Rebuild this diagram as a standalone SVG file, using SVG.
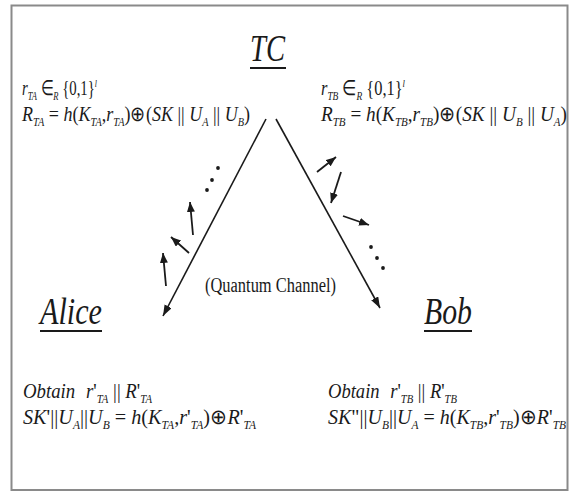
<svg xmlns="http://www.w3.org/2000/svg" width="569" height="492" viewBox="0 0 569 492">
<style>
.m{font-family:"Liberation Serif","Times New Roman",serif;font-size:21px;fill:#1a1a1a}
.q{font-family:"Liberation Serif","Times New Roman",serif;font-size:20px;fill:#1a1a1a}
.i{font-style:italic}
.s{font-size:12px;font-style:italic}
.sp{font-size:11px;font-style:italic}
.big{font-family:"Liberation Serif","Times New Roman",serif;font-size:37px;font-style:italic;fill:#1a1a1a}
.ln{stroke:#1a1a1a;stroke-width:1.6;fill:none}
.sa{stroke:#1a1a1a;stroke-width:1.8;fill:none}
.ul{stroke:#1a1a1a;stroke-width:2}
.dot{fill:#1a1a1a}
</style>
<defs>
<marker id="ah" markerUnits="userSpaceOnUse" markerWidth="11" markerHeight="8" refX="11" refY="4" orient="auto">
<path d="M0,0 L11,4 L0,8 z" fill="#1a1a1a"/>
</marker>
<marker id="sh" markerUnits="userSpaceOnUse" markerWidth="10" markerHeight="8" refX="10" refY="4" orient="auto">
<path d="M0,0 L10,4 L0,8 z" fill="#1a1a1a"/>
</marker>
</defs>
<rect x="11.5" y="5.5" width="556" height="484.5" fill="#fff" stroke="#8a8a8a" stroke-width="2"/>

<g id="connectors">
<line class="ln" x1="266" y1="119" x2="163" y2="316" marker-end="url(#ah)"/>
<line class="ln" x1="276" y1="119" x2="380" y2="308" marker-end="url(#ah)"/>
<line class="sa" x1="193" y1="235" x2="190" y2="202" marker-end="url(#sh)"/>
<line class="sa" x1="189" y1="253" x2="171" y2="237" marker-end="url(#sh)"/>
<line class="sa" x1="166" y1="286" x2="163" y2="253" marker-end="url(#sh)"/>
<line class="sa" x1="317" y1="172" x2="336" y2="157" marker-end="url(#sh)"/>
<line class="sa" x1="341" y1="172" x2="331" y2="203" marker-end="url(#sh)"/>
<line class="sa" x1="343" y1="216" x2="369" y2="225" marker-end="url(#sh)"/>
<circle class="dot" cx="218" cy="168" r="1.9"/>
<circle class="dot" cx="212" cy="180" r="1.9"/>
<circle class="dot" cx="207" cy="190" r="1.9"/>
<circle class="dot" cx="371" cy="247" r="1.9"/>
<circle class="dot" cx="377" cy="258" r="1.9"/>
<circle class="dot" cx="383" cy="268" r="1.9"/>
<text class="q" x="205" y="292" textLength="131" lengthAdjust="spacingAndGlyphs">(Quantum Channel)</text>
</g>

<g id="tc">
<text class="big" x="250" y="61" textLength="35" lengthAdjust="spacingAndGlyphs">TC</text>
<line class="ul" x1="250" y1="68" x2="286" y2="68"/>
<text class="m" x="22" y="95" textLength="75" lengthAdjust="spacingAndGlyphs"><tspan class="i">r</tspan><tspan class="s" dy="5">TA</tspan><tspan dy="-5"> ∈</tspan><tspan class="s" dy="5">R</tspan><tspan dy="-5"> {0,1}</tspan><tspan class="sp" dy="-8">l</tspan></text>
<text class="m" x="22" y="121" textLength="228" lengthAdjust="spacingAndGlyphs"><tspan class="i">R</tspan><tspan class="s" dy="5">TA</tspan><tspan dy="-5"> = </tspan><tspan class="i">h</tspan><tspan>(</tspan><tspan class="i">K</tspan><tspan class="s" dy="5">TA</tspan><tspan dy="-5">,</tspan><tspan class="i">r</tspan><tspan class="s" dy="5">TA</tspan><tspan dy="-5">)⊕(</tspan><tspan class="i">SK</tspan><tspan> || </tspan><tspan class="i">U</tspan><tspan class="s" dy="5">A</tspan><tspan dy="-5"> || </tspan><tspan class="i">U</tspan><tspan class="s" dy="5">B</tspan><tspan dy="-5">)</tspan></text>
<text class="m" x="321" y="95" textLength="84" lengthAdjust="spacingAndGlyphs"><tspan class="i">r</tspan><tspan class="s" dy="5">TB</tspan><tspan dy="-5"> ∈</tspan><tspan class="s" dy="5">R</tspan><tspan dy="-5"> {0,1}</tspan><tspan class="sp" dy="-8">l</tspan></text>
<text class="m" x="321" y="121" textLength="246" lengthAdjust="spacingAndGlyphs"><tspan class="i">R</tspan><tspan class="s" dy="5">TB</tspan><tspan dy="-5"> = </tspan><tspan class="i">h</tspan><tspan>(</tspan><tspan class="i">K</tspan><tspan class="s" dy="5">TB</tspan><tspan dy="-5">,</tspan><tspan class="i">r</tspan><tspan class="s" dy="5">TB</tspan><tspan dy="-5">)⊕(</tspan><tspan class="i">SK</tspan><tspan> || </tspan><tspan class="i">U</tspan><tspan class="s" dy="5">B</tspan><tspan dy="-5"> || </tspan><tspan class="i">U</tspan><tspan class="s" dy="5">A</tspan><tspan dy="-5">)</tspan></text>
</g>

<g id="alice">
<text class="big" x="40" y="324" textLength="62" lengthAdjust="spacingAndGlyphs">Alice</text>
<line class="ul" x1="40" y1="331" x2="102" y2="331"/>
<text class="m" x="23" y="398" textLength="129" lengthAdjust="spacingAndGlyphs"><tspan class="i">Obtain</tspan><tspan dx="12" class="i">r</tspan><tspan>'</tspan><tspan class="s" dy="5">TA</tspan><tspan dy="-5"> || </tspan><tspan class="i">R</tspan><tspan>'</tspan><tspan class="s" dy="5">TA</tspan></text>
<text class="m" x="23" y="424" textLength="233" lengthAdjust="spacingAndGlyphs"><tspan class="i">SK</tspan><tspan>'||</tspan><tspan class="i">U</tspan><tspan class="s" dy="5">A</tspan><tspan dy="-5">||</tspan><tspan class="i">U</tspan><tspan class="s" dy="5">B</tspan><tspan dy="-5"> = </tspan><tspan class="i">h</tspan><tspan>(</tspan><tspan class="i">K</tspan><tspan class="s" dy="5">TA</tspan><tspan dy="-5">,</tspan><tspan class="i">r</tspan><tspan>'</tspan><tspan class="s" dy="5">TA</tspan><tspan dy="-5">)⊕</tspan><tspan class="i">R</tspan><tspan>'</tspan><tspan class="s" dy="5">TA</tspan></text>
</g>

<g id="bob">
<text class="big" x="424" y="324" textLength="48" lengthAdjust="spacingAndGlyphs">Bob</text>
<line class="ul" x1="424" y1="331" x2="472" y2="331"/>
<text class="m" x="328" y="398" textLength="129" lengthAdjust="spacingAndGlyphs"><tspan class="i">Obtain</tspan><tspan dx="12" class="i">r</tspan><tspan>'</tspan><tspan class="s" dy="5">TB</tspan><tspan dy="-5"> || </tspan><tspan class="i">R</tspan><tspan>'</tspan><tspan class="s" dy="5">TB</tspan></text>
<text class="m" x="328" y="424" textLength="238" lengthAdjust="spacingAndGlyphs"><tspan class="i">SK</tspan><tspan>"||</tspan><tspan class="i">U</tspan><tspan class="s" dy="5">B</tspan><tspan dy="-5">||</tspan><tspan class="i">U</tspan><tspan class="s" dy="5">A</tspan><tspan dy="-5"> = </tspan><tspan class="i">h</tspan><tspan>(</tspan><tspan class="i">K</tspan><tspan class="s" dy="5">TB</tspan><tspan dy="-5">,</tspan><tspan class="i">r</tspan><tspan>'</tspan><tspan class="s" dy="5">TB</tspan><tspan dy="-5">)⊕</tspan><tspan class="i">R</tspan><tspan>'</tspan><tspan class="s" dy="5">TB</tspan></text>
</g>
</svg>
